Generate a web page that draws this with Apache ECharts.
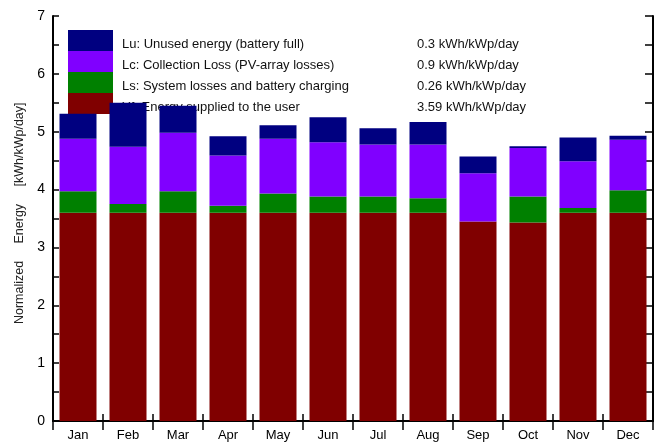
<!DOCTYPE html>
<html>
<head>
<meta charset="utf-8">
<script src="https://cdn.jsdelivr.net/npm/echarts@6/dist/echarts.min.js"></script>
<style>html,body{margin:0;padding:0;background:#fff}#c{width:655px;height:442px}</style>
</head>
<body>
<div id="c"></div>
<script>
var months = ['Jan','Feb','Mar','Apr','May','Jun','Jul','Aug','Sep','Oct','Nov','Dec'];
var yf = [3.60,3.60,3.60,3.60,3.60,3.60,3.60,3.60,3.45,3.43,3.60,3.60];
var ls = [0.37,0.15,0.37,0.12,0.33,0.28,0.28,0.25,0.00,0.45,0.08,0.39];
var lc = [0.91,0.99,1.01,0.87,0.95,0.94,0.90,0.93,0.83,0.84,0.81,0.87];
var lu = [0.43,0.76,0.47,0.33,0.23,0.43,0.28,0.39,0.29,0.03,0.41,0.07];
var seriesNames = ['Yf: Energy supplied to the user','Ls: System losses and battery charging','Lc: Collection Loss (PV-array losses)','Lu: Unused energy (battery full)'];
var seriesTotals = ['3.59 kWh/kWp/day','0.26 kWh/kWp/day','0.9 kWh/kWp/day','0.3 kWh/kWp/day'];
var colors = ['#800000','#008000','#8000ff','#000080'];
var yTicks = [0,1,2,3,4,5,6,7];
var yTitle = '   Normalized     Energy     [kWh/kWp/day]';

var FONT = 'Liberation Sans, Arial, sans-serif';
var dataSets = [yf, ls, lc, lu];
var totalsByName = {};
seriesNames.forEach(function(n,i){ totalsByName[n] = seriesTotals[i]; });

var chart = echarts.init(document.getElementById('c'), null, {renderer:'canvas'});
var axisLine = {show:true, lineStyle:{color:'#000', width:2}};
chart.setOption({
  animation:false,
  backgroundColor:'#fff',
  textStyle:{fontFamily:FONT},
  grid:{left:53, right:2, top:16, bottom:19, containLabel:false},
  legend:{
    z:1,
    orient:'vertical', left:68, top:30, padding:0,
    itemWidth:45, itemHeight:21, itemGap:0, icon:'rect',
    selectedMode:false,
    data:seriesNames.slice().reverse(),
    formatter:function(n){ return '{n|'+n+'}{v|'+totalsByName[n]+'}'; },
    textStyle:{fontFamily:FONT, fontSize:13, color:'#111', lineHeight:13, padding:[7,0,0,4],
      rich:{n:{width:295, fontSize:13, lineHeight:13, fontFamily:FONT, color:'#111'}, v:{fontSize:13, lineHeight:13, fontFamily:FONT, color:'#111'}}}
  },
  xAxis:[{
    type:'category', data:months, position:'bottom',
    axisLine:axisLine,
    axisTick:{show:true, inside:true, length:7, alignWithLabel:false, lineStyle:{color:'#000', width:1.5}},
    axisLabel:{fontSize:13, color:'#000', margin:8, fontFamily:FONT, interval:0}
  },{
    type:'category', data:months, position:'top',
    axisLine:axisLine,
    axisTick:{show:true, inside:true, length:9, alignWithLabel:false, lineStyle:{color:'#000', width:1.5}},
    axisLabel:{show:false}
  }],
  yAxis:[{
    type:'value', min:yTicks[0], max:yTicks[yTicks.length-1], interval:1,
    axisLine:axisLine,
    axisTick:{show:true, inside:true, length:6, lineStyle:{color:'#000', width:1.5}},
    minorTick:{show:true, splitNumber:2, length:6, lineStyle:{color:'#000', width:1.5}},
    splitLine:{show:false},
    axisLabel:{fontSize:14, color:'#000', margin:8, fontFamily:FONT},
    name:yTitle, nameLocation:'middle', nameGap:27,
    nameTextStyle:{fontSize:12.5, color:'#222', fontFamily:FONT}
  },{
    type:'value', min:yTicks[0], max:yTicks[yTicks.length-1], interval:1, position:'right',
    axisLine:axisLine,
    axisTick:{show:true, inside:true, length:8, lineStyle:{color:'#000', width:1.5}},
    minorTick:{show:true, splitNumber:2, length:8, lineStyle:{color:'#000', width:1.5}},
    splitLine:{show:false},
    axisLabel:{show:false}
  }],
  series:dataSets.map(function(d,i){
    return {
      name:seriesNames[i], type:'bar', stack:'e', data:d, barWidth:37, z:2,
      itemStyle:{color:colors[i]}
    };
  })
});
</script>
</body>
</html>
